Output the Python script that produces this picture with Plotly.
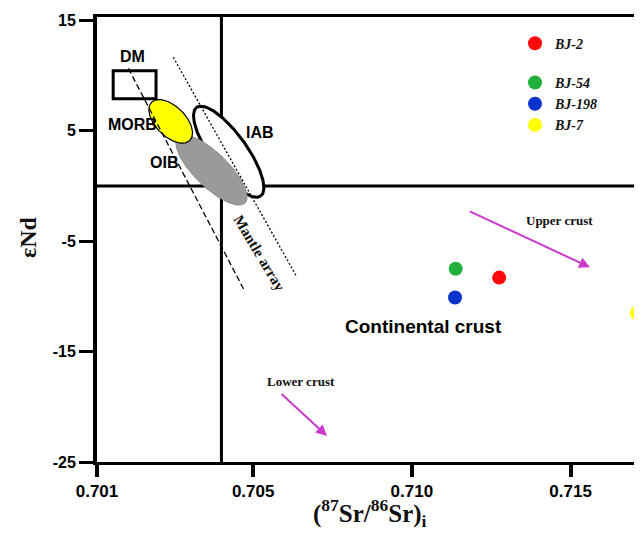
import numpy as np
import plotly.graph_objects as go

# ---- data -------------------------------------------------------------
samples = ["BJ-2", "BJ-54", "BJ-198", "BJ-7"]
sr_i = [0.71275, 0.71138, 0.71136, 0.71709]
eps_nd = [-8.3, -7.5, -10.1, -11.5]
sample_colors = ["#ff0a0a", "#22b03c", "#0a32cc", "#ffff00"]
legend_groups = ["a", "b", "b", "b"]

# reservoir fields (ellipses): centre, semi-major vector, semi-minor vector
ell_names = ["IAB", "OIB", "MORB"]
ell_cx = [0.704229, 0.703687, 0.702402]
ell_cy = [3.10, 1.44, 5.85]
ell_ux = [0.001008, 0.001059, 0.000602]
ell_uy = [-4.016, -2.979, -1.729]
ell_vx = [0.000460, 0.000375, 0.000334]
ell_vy = [0.954, 1.100, 0.960]
ell_fill = ["white", "#9a9a9a", "#ffff00"]
ell_line = ["black", "#8a8a8a", "black"]
ell_width = [3, 1, 1.2]

# DM box
dm_x = [0.70059, 0.70194]
dm_y = [7.9, 10.44]

# mantle array bounding lines
ma_left_x = [0.701066, 0.704743]
ma_left_y = [10.65, -9.58]
ma_right_x = [0.702484, 0.706372]
ma_right_y = [11.65, -8.22]

# reference lines
bse_sr = 0.704
bse_nd = 0

# axis ticks
x_tickvals = [0.70008, 0.705, 0.710, 0.715]
x_ticktext = ["0.701", "0.705", "0.710", "0.715"]
y_tickvals = [-25, -15, -5, 5, 15]
y_ticktext = ["-25", "-15", "-5", "5", "15"]
x_range = [0.70008, 0.71725]
y_range = [-25, 15.3]

# crust trend arrows (tail -> head)
upper_arrow = dict(x0=0.711778, y0=-2.24, x1=0.715612, y1=-7.37)
lower_arrow = dict(x0=0.705846, y0=-18.71, x1=0.707326, y1=-22.65)

# ---- figure -----------------------------------------------------------
fig = go.Figure()

t = np.linspace(0, 2 * np.pi, 200)
for i in range(len(ell_names)):
    ex = ell_cx[i] + ell_ux[i] * np.cos(t) + ell_vx[i] * np.sin(t)
    ey = ell_cy[i] + ell_uy[i] * np.cos(t) + ell_vy[i] * np.sin(t)
    fig.add_trace(go.Scatter(x=ex, y=ey, mode="lines", fill="toself",
                             fillcolor=ell_fill[i],
                             line=dict(color=ell_line[i], width=ell_width[i]),
                             showlegend=False, hoverinfo="skip"))

fig.add_trace(go.Scatter(x=ma_left_x, y=ma_left_y, mode="lines",
                         line=dict(color="black", width=1.3, dash="6px,3px"),
                         showlegend=False, hoverinfo="skip"))
fig.add_trace(go.Scatter(x=ma_right_x, y=ma_right_y, mode="lines",
                         line=dict(color="black", width=1.3, dash="2px,2px"),
                         showlegend=False, hoverinfo="skip"))

for i in range(len(samples)):
    fig.add_trace(go.Scatter(x=[sr_i[i]], y=[eps_nd[i]], mode="markers",
                             name=samples[i], legendgroup=legend_groups[i],
                             marker=dict(color=sample_colors[i], size=14, line=dict(width=0))))

# reference lines
fig.add_shape(type="line", xref="x", yref="paper", x0=bse_sr, x1=bse_sr, y0=0, y1=1,
              line=dict(color="black", width=3), layer="below")
fig.add_shape(type="line", xref="paper", yref="y", x0=0, x1=1, y0=bse_nd, y1=bse_nd,
              line=dict(color="black", width=3), layer="below")
# DM box
fig.add_shape(type="rect", xref="x", yref="y", x0=dm_x[0], x1=dm_x[1], y0=dm_y[0], y1=dm_y[1],
              line=dict(color="black", width=3), fillcolor="rgba(0,0,0,0)")

sans_b = dict(family="Liberation Sans, Arial", color="black", weight="bold")
serif_b = dict(family="Liberation Serif, Times New Roman", color="#111111", weight="bold")

labels = [
    ("DM", 0.701214, 11.68, 16, sans_b, 0),
    ("MORB", 0.701214, 5.52, 16, sans_b, 0),
    ("OIB", 0.702197, 2.12, 16, sans_b, 0),
    ("IAB", 0.705215, 4.81, 16, sans_b, 0),
    ("Continental crust", 0.710351, -12.77, 19, sans_b, 0),
    ("Mantle array", 0.705200, -6.03, 15, serif_b, 59),
    ("Upper crust", 0.714645, -3.15, 13, serif_b, 0),
    ("Lower crust", 0.706495, -17.7, 13, serif_b, 0),
]
for txt, x, y, size, f, ang in labels:
    fig.add_annotation(x=x, y=y, xref="x", yref="y", text=txt, showarrow=False,
                       textangle=ang, font=dict(size=size, **f))

for a in (upper_arrow, lower_arrow):
    fig.add_annotation(x=a["x1"], y=a["y1"], ax=a["x0"], ay=a["y0"],
                       xref="x", yref="y", axref="x", ayref="y", text="",
                       showarrow=True, arrowhead=2, arrowsize=1.1, arrowwidth=2,
                       arrowcolor="#cc3acc")

# axis titles
fig.add_annotation(x=0.5, y=-0.115, xref="paper", yref="paper",
                   xanchor="center", yanchor="middle",
                   text="(<sup>87</sup>Sr/<sup>86</sup>Sr)<sub>i</sub>", showarrow=False,
                   font=dict(size=25, **serif_b))
fig.add_annotation(x=-0.1266, y=0.5056, xref="paper", yref="paper",
                   xanchor="center", yanchor="middle",
                   text="\u03b5Nd", showarrow=False, textangle=-90,
                   font=dict(size=24, **serif_b))

fig.update_layout(
    width=634, height=530,
    margin=dict(l=89, r=0, t=9, b=76),
    paper_bgcolor="white", plot_bgcolor="white",
    legend=dict(x=0.767, y=0.976, xanchor="left", yanchor="top",
                traceorder="grouped", tracegroupgap=18,
                bgcolor="rgba(0,0,0,0)",
                font=dict(family="Liberation Serif, Times New Roman", size=14,
                          style="italic", weight="bold", color="#111111")),
    xaxis=dict(range=x_range, tickvals=x_tickvals, ticktext=x_ticktext,
               showgrid=False, zeroline=False, showline=True, linecolor="black",
               linewidth=3, mirror=True, ticks="outside", ticklen=12, tickwidth=4,
               tickcolor="black",
               tickfont=dict(family="Liberation Sans, Arial", size=17, color="black", weight="bold")),
    yaxis=dict(range=y_range, tickvals=y_tickvals, ticktext=y_ticktext,
               showgrid=False, zeroline=False, showline=True, linecolor="black",
               linewidth=4, ticks="outside", ticklen=14, tickwidth=3, tickcolor="black",
               tickfont=dict(family="Liberation Sans, Arial", size=16, color="black", weight="bold")),
)

fig.write_html("out.html", config={"displayModeBar": False})
